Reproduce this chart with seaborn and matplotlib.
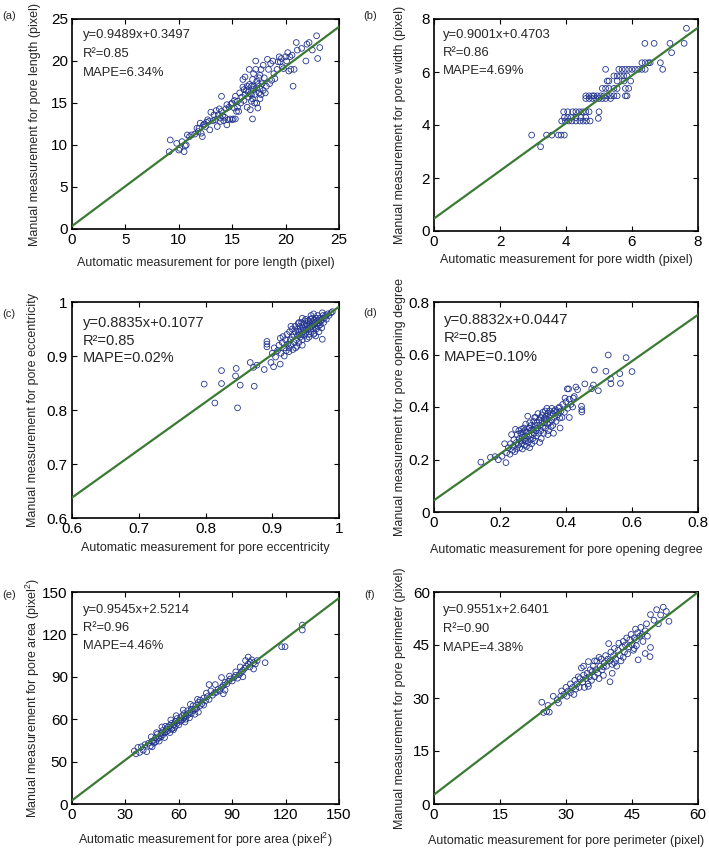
import numpy as np
import matplotlib
matplotlib.use("Agg")
import matplotlib.pyplot as plt
import seaborn as sns

# ---- data (automatic, manual) ----
a_pairs = [(9.1, 9.2), (9.2, 10.6), (9.8, 10.2), (10.0, 9.4), (10.1, 9.6), (10.3, 10.4), (10.5, 9.2),
           (10.6, 9.9), (10.7, 10.0), (10.8, 11.2), (11.0, 11.0), (11.2, 11.2), (11.5, 11.3), (11.8, 11.6),
           (11.9, 12.0), (12.0, 12.6), (12.1, 11.4), (12.2, 11.0), (12.3, 12.4), (12.5, 12.2), (12.6, 12.7),
           (12.8, 12.8), (12.9, 11.8), (13.0, 13.9), (13.2, 12.9), (13.4, 13.0), (13.5, 14.1), (13.6, 12.2),
           (13.7, 13.6), (13.8, 14.3), (13.9, 12.8), (14.0, 15.8), (14.1, 13.5), (14.2, 12.9), (14.3, 13.3),
           (14.4, 14.3), (14.5, 12.4), (14.6, 13.0), (14.7, 14.5), (14.8, 13.1), (14.9, 14.9), (15.0, 13.0),
           (15.1, 13.1), (15.2, 15.3), (15.3, 13.1), (15.4, 14.0), (15.5, 14.5), (15.6, 14.0), (15.8, 15.0),
           (15.9, 15.7), (16.0, 16.9), (16.0, 17.8), (16.1, 15.3), (16.2, 16.0), (16.2, 18.1), (16.3, 16.5),
           (16.4, 14.5), (16.5, 15.7), (16.6, 17.2), (16.6, 19.0), (16.7, 16.1), (16.7, 14.2), (16.8, 17.0),
           (16.8, 16.0), (16.9, 13.1), (16.9, 15.5), (17.0, 17.0), (17.0, 18.5), (17.1, 16.0), (17.2, 19.0),
           (17.2, 20.0), (17.3, 15.0), (17.3, 16.8), (17.4, 14.4), (17.4, 17.2), (17.5, 16.2), (17.5, 18.0),
           (17.6, 15.5), (17.6, 18.3), (17.7, 16.0), (17.7, 19.0), (17.8, 17.3), (17.9, 16.5), (17.9, 19.5),
           (18.0, 18.0), (18.2, 17.0), (18.3, 20.2), (18.4, 19.0), (18.5, 17.3), (18.6, 19.7), (18.7, 17.7),
           (18.8, 20.0), (19.0, 17.9), (19.2, 19.0), (19.4, 20.5), (19.5, 19.9), (19.7, 19.3), (19.8, 19.1),
           (20.0, 20.5), (20.1, 20.0), (20.2, 21.0), (20.3, 18.8), (20.4, 20.5), (20.5, 19.0), (20.6, 20.7),
           (20.7, 17.0), (20.8, 19.0), (21.0, 22.2), (21.1, 21.3), (21.5, 21.5), (21.9, 20.0), (22.0, 22.0),
           (22.2, 22.2), (22.5, 21.3), (22.9, 23.0), (23.0, 20.3), (23.2, 21.6), (16.5, 16.3), (17.0, 16.6),
           (17.3, 17.6), (16.8, 15.2), (17.6, 16.7), (18.1, 16.2), (15.7, 16.2), (15.3, 15.8), (16.9, 17.8),
           (17.1, 15.0), (13.3, 13.6), (14.0, 14.0), (14.5, 14.8), (15.0, 15.0), (15.5, 15.2), (12.4, 12.5),
           (11.7, 12.0), (12.7, 13.0), (13.9, 13.2), (15.2, 14.4), (16.1, 16.6), (16.4, 17.0), (18.9, 18.5),
           (19.3, 19.9), (19.6, 20.3)]

b_pairs = [(2.96, 3.62), (3.41, 3.62), (3.57, 3.62), (3.77, 3.62), (3.85, 3.62), (3.95, 3.62), (3.23, 3.18),
           (3.87, 4.15), (3.98, 4.15), (4.08, 4.15), (4.18, 4.15), (4.3, 4.15), (4.42, 4.15), (4.52, 4.15),
           (4.62, 4.15), (4.73, 4.15), (3.95, 4.28), (4.05, 4.28), (4.15, 4.28), (4.3, 4.28), (4.45, 4.28),
           (4.6, 4.28), (4.98, 4.25), (3.93, 4.5), (4.05, 4.5), (4.2, 4.5), (4.3, 4.5), (4.4, 4.5), (4.5, 4.5),
           (4.6, 4.5), (4.7, 4.5), (5.0, 4.5), (4.6, 5.0), (4.7, 5.0), (4.8, 5.0), (4.9, 5.0), (5.0, 5.0),
           (5.1, 5.0), (5.2, 5.0), (5.35, 5.0), (4.6, 5.1), (4.7, 5.1), (4.8, 5.1), (4.85, 5.1), (4.95, 5.1),
           (5.05, 5.1), (5.15, 5.1), (5.25, 5.1), (5.35, 5.1), (5.45, 5.1), (5.55, 5.1), (5.8, 5.1),
           (5.85, 5.1), (5.1, 5.38), (5.2, 5.38), (5.3, 5.38), (5.45, 5.38), (5.55, 5.38), (5.8, 5.38),
           (5.9, 5.38), (5.25, 5.66), (5.3, 5.66), (5.55, 5.66), (5.76, 5.66), (5.96, 5.66), (5.45, 5.85),
           (5.55, 5.85), (5.65, 5.85), (5.75, 5.85), (5.85, 5.85), (5.2, 6.1), (5.6, 6.1), (5.7, 6.1),
           (5.8, 6.1), (5.9, 6.1), (6.0, 6.1), (6.1, 6.1), (6.2, 6.1), (6.3, 6.1), (6.4, 6.1), (6.93, 6.1),
           (6.3, 6.35), (6.4, 6.35), (6.5, 6.35), (6.55, 6.35), (6.86, 6.35), (7.2, 6.73), (6.39, 7.08),
           (6.67, 7.08), (7.15, 7.08), (7.58, 7.08), (7.65, 7.65)]

c_pairs = [(0.798, 0.848), (0.814, 0.813), (0.824, 0.873), (0.824, 0.849), (0.846, 0.877), (0.845, 0.863),
           (0.848, 0.804), (0.852, 0.846), (0.867, 0.888), (0.872, 0.879), (0.873, 0.844), (0.877, 0.883),
           (0.888, 0.875), (0.892, 0.927), (0.892, 0.922), (0.892, 0.917), (0.898, 0.888), (0.902, 0.880),
           (0.912, 0.885), (0.912, 0.933), (0.900, 0.905), (0.903, 0.915), (0.905, 0.898), (0.908, 0.910),
           (0.910, 0.920), (0.913, 0.905), (0.915, 0.925), (0.916, 0.936), (0.918, 0.915), (0.920, 0.930),
           (0.921, 0.910), (0.922, 0.940), (0.923, 0.922), (0.925, 0.915), (0.926, 0.945), (0.927, 0.930),
           (0.928, 0.920), (0.930, 0.935), (0.930, 0.950), (0.931, 0.912), (0.932, 0.940), (0.933, 0.925),
           (0.934, 0.955), (0.935, 0.945), (0.936, 0.930), (0.937, 0.918), (0.938, 0.950), (0.938, 0.938),
           (0.939, 0.960), (0.940, 0.945), (0.940, 0.925), (0.941, 0.955), (0.942, 0.935), (0.943, 0.948),
           (0.944, 0.962), (0.944, 0.940), (0.945, 0.930), (0.946, 0.952), (0.947, 0.945), (0.948, 0.958),
           (0.948, 0.938), (0.949, 0.965), (0.950, 0.950), (0.950, 0.942), (0.951, 0.960), (0.952, 0.932),
           (0.952, 0.955), (0.953, 0.948), (0.954, 0.965), (0.955, 0.958), (0.955, 0.940), (0.956, 0.952),
           (0.957, 0.968), (0.957, 0.960), (0.958, 0.945), (0.959, 0.955), (0.960, 0.963), (0.960, 0.970),
           (0.961, 0.950), (0.962, 0.958), (0.963, 0.966), (0.963, 0.942), (0.964, 0.955), (0.965, 0.962),
           (0.966, 0.970), (0.966, 0.950), (0.967, 0.960), (0.968, 0.966), (0.969, 0.955), (0.970, 0.962),
           (0.970, 0.945), (0.971, 0.970), (0.972, 0.958), (0.973, 0.965), (0.974, 0.952), (0.975, 0.968),
           (0.976, 0.975), (0.977, 0.962), (0.978, 0.970), (0.980, 0.975), (0.981, 0.968), (0.983, 0.978),
           (0.985, 0.975), (0.988, 0.980), (0.990, 0.982), (0.955, 0.935), (0.962, 0.940), (0.945, 0.920),
           (0.935, 0.915), (0.925, 0.908), (0.918, 0.900), (0.975, 0.931), (0.965, 0.937), (0.958, 0.975),
           (0.950, 0.968), (0.940, 0.962), (0.928, 0.955), (0.945, 0.970), (0.968, 0.975), (0.975, 0.980),
           (0.962, 0.978)]

d_pairs = [(0.142, 0.190), (0.171, 0.208), (0.185, 0.211), (0.195, 0.199), (0.206, 0.212), (0.218, 0.188),
           (0.220, 0.226), (0.214, 0.260), (0.528, 0.598), (0.582, 0.588), (0.600, 0.535), (0.563, 0.527),
           (0.565, 0.490), (0.536, 0.489), (0.535, 0.508), (0.521, 0.536), (0.486, 0.541), (0.498, 0.462),
           (0.483, 0.484), (0.478, 0.470), (0.457, 0.488), (0.430, 0.476), (0.435, 0.466), (0.404, 0.469),
           (0.408, 0.469), (0.447, 0.403), (0.448, 0.390), (0.448, 0.381), (0.381, 0.358), (0.410, 0.360),
           (0.382, 0.320), (0.397, 0.434), (0.422, 0.434),
           (0.225, 0.245), (0.230, 0.220), (0.232, 0.260), (0.235, 0.295), (0.238, 0.235), (0.240, 0.250),
           (0.242, 0.275), (0.245, 0.230), (0.247, 0.315), (0.250, 0.265), (0.250, 0.240), (0.252, 0.295),
           (0.255, 0.255), (0.257, 0.310), (0.258, 0.280), (0.260, 0.245), (0.262, 0.270), (0.263, 0.300),
           (0.265, 0.260), (0.267, 0.285), (0.268, 0.240), (0.270, 0.305), (0.270, 0.275), (0.272, 0.320),
           (0.274, 0.255), (0.275, 0.290), (0.277, 0.270), (0.278, 0.335), (0.280, 0.280), (0.280, 0.250),
           (0.282, 0.305), (0.284, 0.365), (0.285, 0.265), (0.287, 0.320), (0.288, 0.290), (0.290, 0.340),
           (0.290, 0.245), (0.292, 0.275), (0.294, 0.310), (0.295, 0.330), (0.296, 0.260), (0.298, 0.295),
           (0.300, 0.315), (0.300, 0.280), (0.302, 0.345), (0.304, 0.300), (0.305, 0.270), (0.307, 0.330),
           (0.308, 0.360), (0.310, 0.310), (0.310, 0.290), (0.312, 0.340), (0.314, 0.320), (0.315, 0.375),
           (0.317, 0.300), (0.318, 0.350), (0.320, 0.330), (0.320, 0.265), (0.322, 0.360), (0.324, 0.310),
           (0.325, 0.280), (0.327, 0.345), (0.328, 0.370), (0.330, 0.325), (0.330, 0.380), (0.332, 0.300),
           (0.334, 0.355), (0.335, 0.340), (0.337, 0.385), (0.338, 0.320), (0.340, 0.365), (0.340, 0.350),
           (0.342, 0.395), (0.344, 0.335), (0.345, 0.375), (0.347, 0.310), (0.348, 0.360), (0.350, 0.385),
           (0.350, 0.340), (0.352, 0.370), (0.355, 0.325), (0.357, 0.395), (0.358, 0.350), (0.360, 0.375),
           (0.362, 0.300), (0.364, 0.385), (0.365, 0.360), (0.368, 0.390), (0.370, 0.345), (0.372, 0.380),
           (0.375, 0.370), (0.378, 0.395), (0.380, 0.400), (0.385, 0.385), (0.388, 0.360), (0.390, 0.410),
           (0.395, 0.380), (0.400, 0.420), (0.405, 0.395), (0.410, 0.430), (0.415, 0.410), (0.420, 0.400),
           (0.425, 0.440), (0.360, 0.330), (0.345, 0.295), (0.290, 0.320), (0.265, 0.315), (0.305, 0.360),
           (0.275, 0.310)]

e_pairs = [(35, 37.5), (36, 35.5), (37, 40), (38, 36.5), (39, 40.5), (40, 38), (41, 42), (42, 37), (43, 43),
           (44, 41), (45, 44.5), (45, 40.5), (46, 45), (46, 43), (47, 47), (47, 44), (48, 46), (48, 49.5),
           (49, 47), (49, 44.5), (50, 50), (50, 47.5), (51, 52), (51, 49), (52, 47), (52, 50.5), (53, 53),
           (53, 51), (54, 54.5), (54, 52), (55, 55.5), (55, 50.5), (56, 53), (56, 57), (57, 56), (57, 52.5),
           (58, 58.5), (58, 55), (59, 57), (59, 60.5), (60, 59), (60, 56), (61, 61), (61, 58.5), (62, 62.5),
           (62, 59.5), (63, 61), (63, 64), (64, 62.5), (64, 60), (65, 66), (65, 63), (66, 64.5), (66, 61),
           (67, 67), (67, 64), (68, 66), (68, 69.5), (69, 67), (69, 63.5), (70, 70), (70, 67.5), (71, 72),
           (71, 65), (72, 69.5), (72, 73.5), (73, 71), (74, 75), (74, 70), (75, 73), (76, 76), (77, 74),
           (78, 80), (77, 84.5), (79, 77), (80, 78.5), (81, 79), (82, 81), (83, 80), (84, 82.5), (84, 89.5),
           (85, 84), (85, 78), (86, 86), (86, 80.5), (87, 85), (88, 87), (89, 88.5), (90, 87), (91, 89.5),
           (92, 91), (92, 93.5), (93, 89), (94, 91.5), (95, 93), (96, 94.5), (96, 90), (97, 96), (98, 97.5),
           (99, 99), (99, 104), (100, 100.5), (100, 97), (101, 102), (102, 100), (102, 95.5), (103, 99),
           (104, 101.5), (108.5, 100), (117.8, 111.3), (119.7, 111.3), (129.4, 126.6), (129.4, 123.1),
           (44.5, 47.5), (50.5, 54.5), (55.5, 59.5), (58.5, 62.5), (62.5, 66.5), (66.5, 70.5), (70.5, 74),
           (63.5, 58), (57.5, 54), (52.5, 55), (47.5, 50.5), (75.5, 78.5), (80.5, 84.5), (88.5, 90.5),
           (94.5, 97), (97.5, 101.5)]

f_pairs = [(24.5, 28.8), (24.9, 25.9), (25.6, 26.2), (26.2, 26.0), (25.9, 27.9), (27.1, 30.5), (28.3, 28.6),
           (28.0, 29.5), (28.8, 30.5), (29.0, 32.0), (29.5, 31.0), (30.0, 33.0), (30.2, 30.5), (30.5, 32.0),
           (31.0, 31.5), (31.0, 34.0), (31.5, 33.0), (31.8, 31.0), (32.0, 35.0), (32.2, 32.5), (32.5, 34.0),
           (32.8, 36.0), (33.0, 33.0), (33.2, 35.5), (33.5, 38.5), (35.1, 40.3), (33.8, 34.5), (34.0, 36.5),
           (34.2, 33.0), (34.5, 35.5), (34.8, 37.0), (35.0, 34.0), (35.1, 33.3), (35.3, 36.0), (35.5, 38.0),
           (35.8, 35.0), (36.0, 37.5), (36.2, 39.0), (36.5, 36.0), (36.8, 38.0), (37.0, 40.5), (37.2, 37.0),
           (37.5, 35.5), (37.8, 39.0), (38.0, 41.0), (38.2, 38.0), (38.5, 36.4), (38.7, 40.0), (39.0, 42.0),
           (39.2, 39.0), (39.5, 41.0), (39.7, 45.4), (40.0, 34.6), (40.0, 40.5), (40.2, 43.0), (40.5, 39.5),
           (40.8, 42.0), (41.0, 44.0), (41.3, 41.0), (41.5, 39.0), (41.8, 43.5), (42.0, 45.5), (42.3, 42.0),
           (42.5, 40.5), (42.8, 44.5), (43.0, 46.0), (43.3, 43.0), (43.5, 45.0), (43.8, 47.0), (44.0, 42.5),
           (44.3, 44.5), (44.5, 46.5), (44.8, 48.0), (45.0, 45.0), (45.3, 43.5), (45.5, 47.0), (45.8, 49.5),
           (46.0, 44.8), (46.0, 46.5), (46.3, 48.5), (46.4, 40.8), (46.8, 47.5), (47.0, 50.0), (47.3, 48.0),
           (47.5, 46.0), (48.0, 42.6), (48.0, 49.0), (48.3, 51.0), (48.5, 47.5), (49.2, 53.6), (49.2, 44.3),
           (49.1, 41.7), (50.0, 52.0), (50.6, 55.0), (51.0, 51.0), (51.5, 53.5), (52.1, 55.7), (52.8, 54.5),
           (53.4, 51.7), (36.5, 40.5), (34.0, 39.0), (38.5, 38.8), (40.5, 37.0), (37.5, 41.5), (41.0, 40.0),
           (43.0, 41.5), (45.5, 44.0)]

fits = {"a": (0.9489, 0.3497), "b": (0.9001, 0.4703), "c": (0.8835, 0.1077),
        "d": (0.8832, 0.0447), "e": (0.9545, 2.5214), "f": (0.9551, 2.6401)}
stats_text = {
    "a": ["y=0.9489x+0.3497", "R²=0.85", "MAPE=6.34%"],
    "b": ["y=0.9001x+0.4703", "R²=0.86", "MAPE=4.69%"],
    "c": ["y=0.8835x+0.1077", "R²=0.85", "MAPE=0.02%"],
    "d": ["y=0.8832x+0.0447", "R²=0.85", "MAPE=0.10%"],
    "e": ["y=0.9545x+2.5214", "R²=0.96", "MAPE=4.46%"],
    "f": ["y=0.9551x+2.6401", "R²=0.90", "MAPE=4.38%"],
}
x_labels = {
    "a": "Automatic measurement for pore length (pixel)",
    "b": "Automatic measurement for pore width (pixel)",
    "c": "Automatic measurement for pore eccentricity",
    "d": "Automatic measurement for pore opening degree",
    "e": "Automatic measurement for pore area (pixel$^2$)",
    "f": "Automatic measurement for pore perimeter (pixel)",
}
y_labels = {
    "a": "Manual measurement for pore length (pixel)",
    "b": "Manual measurement for pore width (pixel)",
    "c": "Manual measurement for pore eccentricity",
    "d": "Manual measurement for pore opening degree",
    "e": "Manual measurement for pore area (pixel$^2$)",
    "f": "Manual measurement for pore perimeter (pixel)",
}
ticks = {"a": [0, 5, 10, 15, 20, 25], "b": [0, 2, 4, 6, 8], "c": [0.6, 0.7, 0.8, 0.9, 1.0],
         "d": [0, 0.2, 0.4, 0.6, 0.8], "e": [0, 30, 60, 90, 120, 150], "f": [0, 15, 30, 45, 60]}
tick_labels = {"a": ["0", "5", "10", "15", "20", "25"], "b": ["0", "2", "4", "6", "8"],
               "c": ["0.6", "0.7", "0.8", "0.9", "1"], "d": ["0", "0.2", "0.4", "0.6", "0.8"],
               "e": ["0", "30", "60", "90", "120", "150"], "f": ["0", "15", "30", "45", "60"]}
e_ytick_labels = ["0", "50", "60", "90", "120", "150"]   # as printed in the original
pairs = {"a": a_pairs, "b": b_pairs, "c": c_pairs, "d": d_pairs, "e": e_pairs, "f": f_pairs}

# ---- layout (pixels in a 709x849 canvas) ----
W, H = 709, 849
boxes = {"a": (72, 19, 339, 229), "b": (434, 19, 698, 231), "c": (72, 302, 339, 518),
         "d": (434, 302, 698, 512), "e": (72, 592, 339, 804), "f": (434, 592, 698, 804)}
xlab_y = {"a": 263, "b": 260, "c": 548, "d": 550, "e": 840, "f": 841}
ylab_x = {"a": 35, "b": 400, "c": 33, "d": 400, "e": 33, "f": 400}
tag_pos = {"a": (9, 16), "b": (370, 16), "c": (9, 314), "d": (370, 313), "e": (9, 595), "f": (370, 595)}
# text block: dx, dy of first line from top-left, line spacing, font size
txt_fmt = {"a": (11, 16, 19, 9.4), "b": (9, 16, 18, 9.4), "c": (11, 21, 17.5, 10.5),
           "d": (10, 18, 18.5, 10.8), "e": (11, 18, 18, 9.3), "f": (9, 18, 19, 9.3)}

blue = "#22358f"
green = "#3b7a34"

sns.set_style("ticks")
plt.rcParams["font.family"] = ["Liberation Sans", "DejaVu Sans"]
plt.rcParams["mathtext.fontset"] = "custom"
plt.rcParams["mathtext.rm"] = "Liberation Sans"

fig = plt.figure(figsize=(W / 100, H / 100), dpi=100)

for k in "abcdef":
    l, t, r, b = boxes[k]
    wpx, hpx = r - l, b - t
    ax = fig.add_axes([l / W, 1 - b / H, wpx / W, hpx / H])
    xs, ys = zip(*pairs[k])
    sns.scatterplot(x=list(xs), y=list(ys), ax=ax, marker="o", s=17, facecolor="none",
                    edgecolor=blue, linewidth=0.6, legend=False, zorder=2)
    lim = (ticks[k][0], ticks[k][-1])
    slope, icpt = fits[k]
    lx = np.array(lim, dtype=float)
    sns.lineplot(x=lx, y=slope * lx + icpt, ax=ax, color=green, linewidth=1.6, zorder=3)
    ax.set_xlim(lim)
    ax.set_ylim(lim)
    ax.set_xticks(ticks[k])
    ax.set_yticks(ticks[k])
    ax.set_xticklabels(tick_labels[k])
    ax.set_yticklabels(e_ytick_labels if k == "e" else tick_labels[k])
    ax.tick_params(direction="in", top=True, right=True, length=3.5, width=0.8,
                   labelsize=11, pad=3, colors="black")
    for sp in ax.spines.values():
        sp.set_visible(True)
        sp.set_linewidth(1.2)
        sp.set_color("black")

    ax.set_xlabel(x_labels[k], fontsize=9, va="center")
    ax.set_ylabel(y_labels[k], fontsize=9, va="center")
    ax.xaxis.set_label_coords(0.5, (b - xlab_y[k]) / hpx)
    ax.yaxis.set_label_coords((ylab_x[k] - l) / wpx, 0.5)

    dx, dy, sp_, fs = txt_fmt[k]
    for i, line in enumerate(stats_text[k]):
        ax.text(dx / wpx, 1 - (dy + i * sp_) / hpx, line, transform=ax.transAxes,
                ha="left", va="center", fontsize=fs)

    tx, ty = tag_pos[k]
    fig.text(tx / W, 1 - ty / H, "(" + k + ")", ha="center", va="center", fontsize=8)

fig.savefig("out.png", dpi=100)
